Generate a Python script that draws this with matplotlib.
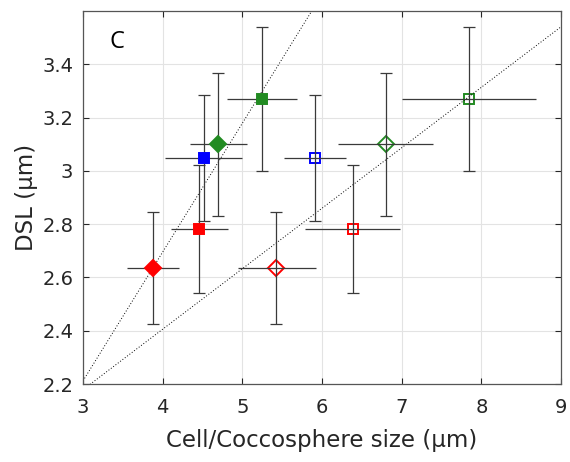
import numpy as np
import matplotlib
matplotlib.use('Agg')
import matplotlib.pyplot as plt

plt.rcParams['font.family'] = ['DejaVu Sans']

# DSL per strain (um) with its spread
dsl = [2.635, 2.78, 3.05, 3.10, 3.27]
dsl_lo = [2.426, 2.541, 2.813, 2.83, 3.0]
dsl_hi = [2.846, 3.021, 3.286, 3.368, 3.54]
colors = ['#ff0000', '#ff0000', '#0000ff', '#228b22', '#228b22']
markers = ['D', 's', 's', 'D', 's']

# cell size (filled) and coccosphere size (open), um
cell = [3.88, 4.46, 4.52, 4.70, 5.25]
cell_lo = [3.55, 4.11, 4.03, 4.34, 4.81]
cell_hi = [4.21, 4.82, 5.00, 5.06, 5.69]
cocco = [5.42, 6.385, 5.91, 6.80, 7.85]
cocco_lo = [4.94, 5.79, 5.52, 6.20, 7.00]
cocco_hi = [5.92, 6.98, 6.30, 7.39, 8.68]

fig = plt.figure(figsize=(5.7, 4.62), dpi=100)
ax = fig.add_axes([0.1456, 0.1688, 0.8386, 0.8074])

ebc = '#3a3a3a'
for i in range(len(dsl)):
    for xs, lo, hi, filled in [(cell, cell_lo, cell_hi, True), (cocco, cocco_lo, cocco_hi, False)]:
        ax.errorbar(xs[i], dsl[i],
                    xerr=[[xs[i] - lo[i]], [hi[i] - xs[i]]],
                    fmt='none', ecolor=ebc, elinewidth=0.9, capsize=0, zorder=2)
        ax.errorbar(xs[i], dsl[i],
                    yerr=[[dsl[i] - dsl_lo[i]], [dsl_hi[i] - dsl[i]]],
                    fmt='none', ecolor=ebc, elinewidth=0.9, capsize=4, capthick=0.9, zorder=2)
        ax.plot(xs[i], dsl[i], marker=markers[i], ms=7 if markers[i] == 's' else 8,
                mfc=colors[i] if filled else 'none', mec=colors[i], mew=1.4,
                ls='none', zorder=3 if filled else 1)

# linear fits
xx = np.linspace(3, 9, 200)
for xs in (cell, cocco):
    p = np.polyfit(xs, dsl, 1)
    ax.plot(xx, np.polyval(p, xx), ls=(0, (1, 2)), color='black', lw=0.7, zorder=1.5)

ax.set_xlim(3, 9)
ax.set_ylim(2.2, 3.6)
ax.set_xticks(range(3, 10))
ax.set_yticks([2.2, 2.4, 2.6, 2.8, 3.0, 3.2, 3.4])
ax.set_yticklabels(['2.2', '2.4', '2.6', '2.8', '3', '3.2', '3.4'])
ax.grid(True, color='#e3e3e3', lw=0.8)
ax.set_axisbelow(True)
ax.tick_params(direction='in', top=True, right=True, length=4, width=0.8,
               labelsize=14, colors='#262626')
ax.tick_params(axis='x', pad=10)
ax.tick_params(axis='y', pad=7)
for s in ax.spines.values():
    s.set_color('#555555')
    s.set_linewidth(0.9)

ax.set_xlabel('Cell/Coccosphere size (μm)', fontsize=16.5, color='#262626', labelpad=9)
ax.set_ylabel('DSL (μm)', fontsize=16.5, color='#262626', labelpad=3)
ax.text(3.33, 3.46, 'C', fontsize=17, family=['Open Sans', 'DejaVu Sans'], color='black')

plt.savefig('out.png', dpi=100)
